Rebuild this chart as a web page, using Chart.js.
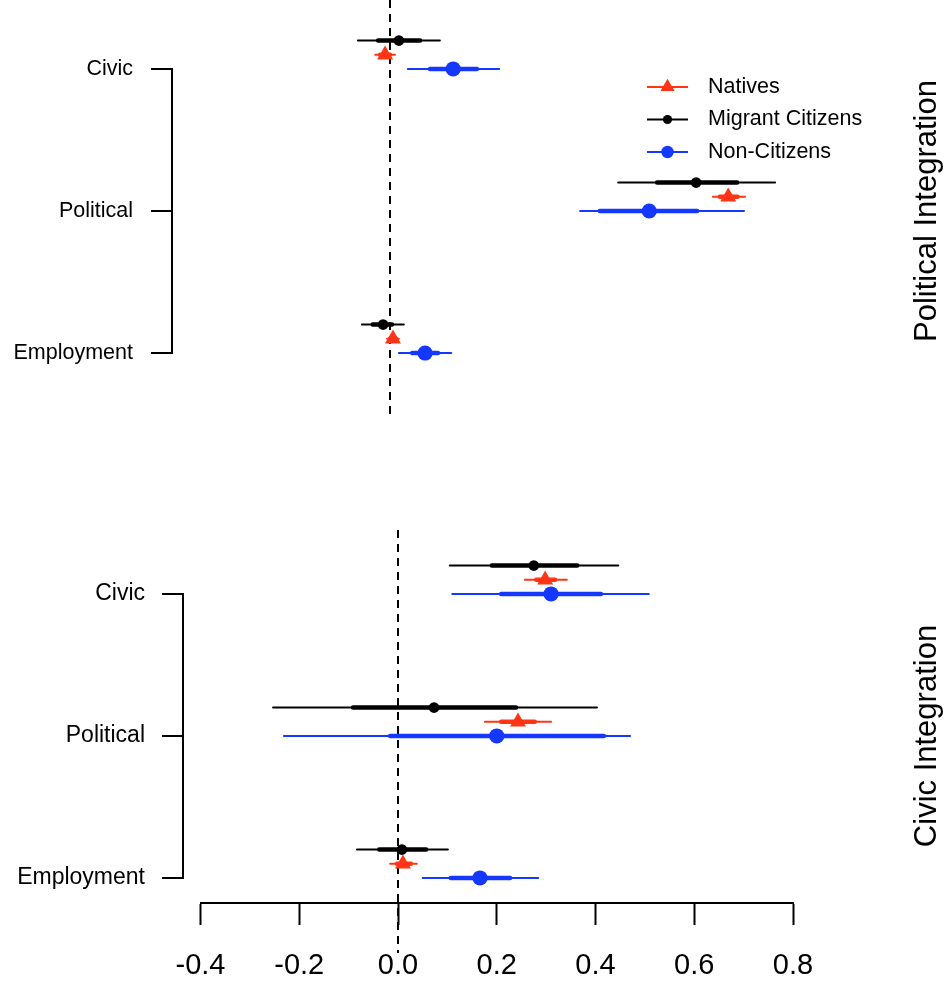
<!DOCTYPE html>
<html>
<head>
<meta charset="utf-8">
<script src="https://cdn.jsdelivr.net/npm/chart.js@4.4.1/dist/chart.umd.min.js"></script>
<style>
  html, body { margin: 0; padding: 0; background: #ffffff; }
  .wrap { position: relative; width: 945px; height: 981px; overflow: hidden; }
  canvas { position: absolute; left: 0; }
  #polChart { top: 0; }
  #civChart { top: 470px; }
</style>
</head>
<body>
<div class="wrap">
  <canvas id="polChart" width="945" height="470"></canvas>
  <canvas id="civChart" width="945" height="538"></canvas>
</div>
<script>
// ---- categories, series and axis ticks ----
const categories = ['Civic', 'Political', 'Employment'];
const categoryPos = [3, 2, 1];
const seriesNames = ['Natives', 'Migrant Citizens', 'Non-Citizens'];
const seriesOffset = [0.1, 0.2, 0];
const xTickValues = [-0.4, -0.2, 0, 0.2, 0.4, 0.6, 0.8];
const xTickLabels = ['-0.4', '-0.2', '0.0', '0.2', '0.4', '0.6', '0.8'];

// ---- Political Integration: estimates, outer and inner intervals ----
const polNatEst  = [-0.010, 0.685,  0.006];
const polNatLo   = [-0.030, 0.654, -0.006];
const polNatHi   = [ 0.010, 0.719,  0.018];
const polNatLoIn = [-0.020, 0.668,  0.000];
const polNatHiIn = [ 0.000, 0.704,  0.012];

const polMigEst  = [ 0.018, 0.620, -0.014];
const polMigLo   = [-0.065, 0.462, -0.057];
const polMigHi   = [ 0.101, 0.780,  0.028];
const polMigLoIn = [-0.024, 0.541, -0.035];
const polMigHiIn = [ 0.061, 0.703,  0.004];

const polNonEst  = [ 0.128, 0.525,  0.071];
const polNonLo   = [ 0.036, 0.385,  0.018];
const polNonHi   = [ 0.221, 0.717,  0.124];
const polNonLoIn = [ 0.081, 0.425,  0.045];
const polNonHiIn = [ 0.176, 0.622,  0.097];

// ---- Civic Integration: estimates, outer and inner intervals ----
const civNatEst  = [ 0.298, 0.243,  0.010];
const civNatLo   = [ 0.257, 0.176, -0.016];
const civNatHi   = [ 0.342, 0.310,  0.038];
const civNatLoIn = [ 0.280, 0.209, -0.002];
const civNatHiIn = [ 0.318, 0.277,  0.026];

const civMigEst  = [ 0.275, 0.073,  0.008];
const civMigLo   = [ 0.105, -0.253, -0.083];
const civMigHi   = [ 0.446, 0.403,  0.101];
const civMigLoIn = [ 0.190, -0.091, -0.038];
const civMigHiIn = [ 0.363, 0.239,  0.057];

const civNonEst  = [ 0.310, 0.200,  0.166];
const civNonLo   = [ 0.110, -0.231, 0.050];
const civNonHi   = [ 0.508, 0.470,  0.284];
const civNonLoIn = [ 0.209, -0.016, 0.107];
const civNonHiIn = [ 0.411, 0.417,  0.227];

// ---- styling ----
const FONT = "'Liberation Sans', Arial, Helvetica, sans-serif";
const seriesStyle = [
  { color: '#ff3516', pointStyle: 'triangle', radius: 9.2, legendRadius: 8.2 },
  { color: '#000000', pointStyle: 'circle',   radius: 5.3, legendRadius: 4.6 },
  { color: '#1438ff', pointStyle: 'circle',   radius: 7.6, legendRadius: 6.2 }
];

function panelDatasets(panel) {
  const sets = [];
  panel.forEach((s, k) => {
    const st = seriesStyle[k];
    const yAt = i => categoryPos[i] + seriesOffset[k];
    const segs = (a, b) => categories.flatMap((c, i) => [
      { x: a[i], y: yAt(i) }, { x: b[i], y: yAt(i) }, { x: null, y: null }
    ]);
    sets.push({
      label: seriesNames[k],
      data: categories.map((c, i) => ({ x: s.est[i], y: yAt(i) })),
      pointStyle: st.pointStyle, pointRadius: st.radius,
      pointBackgroundColor: st.color, pointBorderColor: st.color, pointBorderWidth: 0,
      showLine: false, order: 0
    });
    sets.push({
      data: segs(s.loIn, s.hiIn), showLine: true, pointRadius: 0,
      borderColor: st.color, borderWidth: 4.5, borderCapStyle: 'round', order: 1
    });
    sets.push({
      data: segs(s.lo, s.hi), showLine: true, pointRadius: 0,
      borderColor: st.color, borderWidth: 2, borderCapStyle: 'round', order: 2
    });
  });
  return sets;
}

function zeroLine(yFrom, yTo) {
  return {
    data: [{ x: 0, y: yFrom }, { x: 0, y: yTo }], showLine: true, pointRadius: 0,
    borderColor: '#000', borderWidth: 2, borderDash: [8, 6], clip: false, order: 3
  };
}

// brackets, category labels, side titles and legend
const panelDecor = {
  id: 'panelDecor',
  afterDraw(chart, args, opts) {
    const ctx = chart.ctx;
    const y = chart.scales.y;
    const bx = opts.bracketX;
    ctx.save();
    ctx.strokeStyle = '#000';
    ctx.lineWidth = 2;
    ctx.lineCap = 'square';
    ctx.beginPath();
    ctx.moveTo(bx, y.getPixelForValue(categoryPos[0]));
    ctx.lineTo(bx, y.getPixelForValue(categoryPos[categoryPos.length - 1]));
    categoryPos.forEach(v => {
      const py = y.getPixelForValue(v);
      ctx.moveTo(bx, py);
      ctx.lineTo(bx - opts.tickLen, py);
    });
    ctx.stroke();

    ctx.fillStyle = '#000';
    ctx.font = opts.labelSize + 'px ' + FONT;
    ctx.textAlign = 'right';
    ctx.textBaseline = 'middle';
    categories.forEach((c, i) => {
      ctx.fillText(c, bx - opts.tickLen - opts.labelGap, y.getPixelForValue(categoryPos[i]));
    });

    ctx.save();
    ctx.translate(opts.titleX, y.getPixelForValue(categoryPos[1]));
    ctx.rotate(-Math.PI / 2);
    ctx.textAlign = 'center';
    ctx.font = opts.titleSize + 'px ' + FONT;
    ctx.fillText(opts.title, 0, 0);
    ctx.restore();

    if (opts.legend) {
      const L = opts.legend;
      ctx.font = L.size + 'px ' + FONT;
      ctx.textAlign = 'left';
      seriesNames.forEach((name, k) => {
        const st = seriesStyle[k];
        const ly = L.y + k * L.step;
        ctx.strokeStyle = st.color;
        ctx.lineWidth = 2;
        ctx.lineCap = 'butt';
        ctx.beginPath();
        ctx.moveTo(L.x, ly);
        ctx.lineTo(L.x + L.len, ly);
        ctx.stroke();
        ctx.fillStyle = st.color;
        Chart.helpers.drawPoint(ctx, { pointStyle: st.pointStyle, radius: st.legendRadius, rotation: 0, borderWidth: 0 },
          L.x + L.len / 2, ly);
        ctx.fillStyle = '#000';
        ctx.fillText(name, L.x + L.len + L.gap, ly);
      });
    }
    ctx.restore();
  }
};
Chart.register(panelDecor);

const common = {
  responsive: false,
  animation: false,
  events: [],
  devicePixelRatio: 1
};

// ---- top panel: Political Integration ----
const polPanel = [
  { est: polNatEst, lo: polNatLo, hi: polNatHi, loIn: polNatLoIn, hiIn: polNatHiIn },
  { est: polMigEst, lo: polMigLo, hi: polMigHi, loIn: polMigLoIn, hiIn: polMigHiIn },
  { est: polNonEst, lo: polNonLo, hi: polNonHi, loIn: polNonLoIn, hiIn: polNonHiIn }
];
const polYMin = 0.5634, polYMax = 3.4859;
new Chart(document.getElementById('polChart'), {
  type: 'scatter',
  data: { datasets: [...panelDatasets(polPanel), zeroLine(polYMax, polYMin)] },
  options: {
    ...common,
    layout: { autoPadding: false, padding: { left: 192.5, right: 160, top: 0, bottom: 55 } },
    scales: {
      x: { type: 'linear', min: -0.4, max: 0.8, display: false },
      y: { type: 'linear', min: polYMin, max: polYMax, display: false }
    },
    plugins: {
      legend: { display: false },
      tooltip: { enabled: false },
      panelDecor: {
        bracketX: 172, tickLen: 20, labelGap: 19, labelSize: 21.5,
        title: 'Political Integration', titleX: 927, titleSize: 31,
        legend: { x: 647, y: 87, step: 32.5, len: 41, gap: 20, size: 21.5 }
      }
    }
  }
});

// ---- bottom panel: Civic Integration ----
const civPanel = [
  { est: civNatEst, lo: civNatLo, hi: civNatHi, loIn: civNatLoIn, hiIn: civNatHiIn },
  { est: civMigEst, lo: civMigLo, hi: civMigHi, loIn: civMigLoIn, hiIn: civMigHiIn },
  { est: civNonEst, lo: civNonLo, hi: civNonHi, loIn: civNonLoIn, hiIn: civNonHiIn }
];
const civYMin = 0.8239, civYMax = 3.8732;
new Chart(document.getElementById('civChart'), {
  type: 'scatter',
  data: { datasets: [...panelDatasets(civPanel), zeroLine(3.4507, 0.4718)] },
  options: {
    ...common,
    layout: { autoPadding: false, padding: { left: 200.5, right: 152, top: 0, bottom: 0.5 } },
    scales: {
      x: {
        type: 'linear', min: -0.4, max: 0.8, position: 'bottom',
        afterBuildTicks: scale => { scale.ticks = xTickValues.map(v => ({ value: v })); },
        ticks: {
          callback: (v, i) => xTickLabels[i],
          font: { family: FONT, size: 29, lineHeight: 1.0 },
          color: '#000', padding: 26.75, maxRotation: 0, autoSkip: false
        },
        grid: { drawOnChartArea: false, drawTicks: true, tickLength: 22, tickWidth: 2, tickColor: '#000' },
        border: { display: true, color: '#000', width: 2 }
      },
      y: { type: 'linear', min: civYMin, max: civYMax, display: false }
    },
    plugins: {
      legend: { display: false },
      tooltip: { enabled: false },
      panelDecor: {
        bracketX: 183, tickLen: 20, labelGap: 18, labelSize: 23,
        title: 'Civic Integration', titleX: 927, titleSize: 31
      }
    }
  }
});
</script>
</body>
</html>
